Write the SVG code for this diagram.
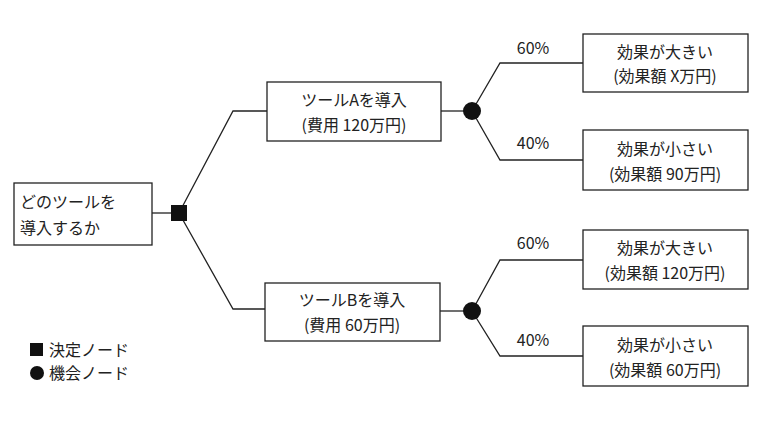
<svg xmlns="http://www.w3.org/2000/svg" width="779" height="421" viewBox="0 0 779 421">
<style>
.b{fill:#fff;stroke:#222;stroke-width:1.3}
.l{fill:none;stroke:#222;stroke-width:1.3}
text{font-family:"Noto Sans CJK JP","Liberation Serif",serif;font-size:16px;fill:#222}
.c{text-anchor:middle}
</style>
<rect width="779" height="421" fill="#fff"/>
<g id="connectors">
<polyline class="l" points="179,213 233,111 267,111"/>
<polyline class="l" points="179,213 233,309 265,309"/>
<line class="l" x1="152" y1="213" x2="171" y2="213"/>
<line class="l" x1="441" y1="111" x2="472" y2="111"/>
<line class="l" x1="440" y1="311" x2="472" y2="311"/>
<polyline class="l" points="472,111 500,63 583,63"/>
<polyline class="l" points="472,111 500,160 583,160"/>
<polyline class="l" points="472,311 500,260 583,260"/>
<polyline class="l" points="472,311 500,356 583,356"/>
<text x="533" y="54" class="c">60%</text>
<text x="533" y="149" class="c">40%</text>
<text x="533" y="249" class="c">60%</text>
<text x="533" y="346" class="c">40%</text>
</g>
<g id="root"><rect class="b" x="14" y="183" width="138" height="62"/><text x="20" y="208">どのツールを</text><text x="20" y="234">導入するか</text></g>
<g id="decision"><rect x="171" y="205" width="16" height="16" fill="#111"/></g>
<g id="toolA"><rect class="b" x="267" y="82" width="174" height="59"/><text x="354" y="106" class="c">ツールAを導入</text><text x="354" y="131" class="c">(費用 120万円)</text></g>
<g id="toolB"><rect class="b" x="265" y="283" width="175" height="58"/><text x="352" y="306" class="c">ツールBを導入</text><text x="352" y="331" class="c">(費用 60万円)</text></g>
<g id="chanceA"><circle cx="472" cy="111" r="9" fill="#111"/></g>
<g id="chanceB"><circle cx="472" cy="311" r="9" fill="#111"/></g>
<g id="a1"><rect class="b" x="583" y="34" width="165" height="58"/><text x="665" y="58" class="c">効果が大きい</text><text x="665" y="82" class="c">(効果額 X万円)</text></g>
<g id="a2"><rect class="b" x="583" y="130" width="165" height="60"/><text x="665" y="155" class="c">効果が小さい</text><text x="665" y="180" class="c">(効果額 90万円)</text></g>
<g id="b1"><rect class="b" x="583" y="230" width="165" height="59"/><text x="665" y="254" class="c">効果が大きい</text><text x="665" y="279" class="c">(効果額 120万円)</text></g>
<g id="b2"><rect class="b" x="583" y="326" width="165" height="60"/><text x="665" y="351" class="c">効果が小さい</text><text x="665" y="376" class="c">(効果額 60万円)</text></g>
<g id="legend">
<rect x="30" y="343" width="13" height="13" fill="#111"/><text x="49" y="356">決定ノード</text>
<circle cx="37" cy="373" r="7" fill="#111"/><text x="49" y="379">機会ノード</text>
</g>
</svg>
